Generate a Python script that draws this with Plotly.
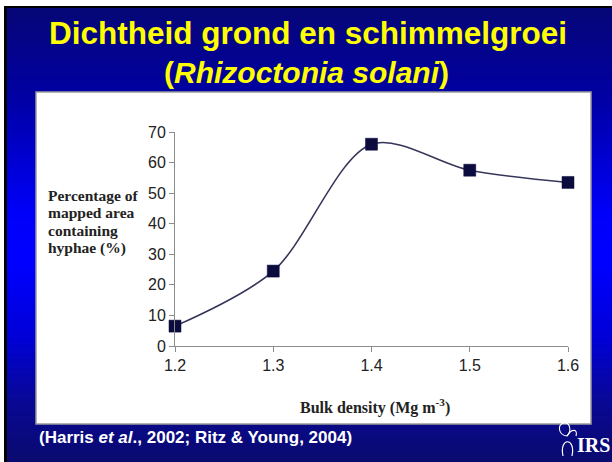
import plotly.graph_objects as go

# ---- data ----
bulk_density = [1.2, 1.3, 1.4, 1.5, 1.6]
hyphae_pct = [6.5, 24.5, 66.0, 57.5, 53.5]
x_ticks = [1.2, 1.3, 1.4, 1.5, 1.6]
x_tick_labels = ["1.2", "1.3", "1.4", "1.5", "1.6"]
y_ticks = [0, 10, 20, 30, 40, 50, 60, 70]
y_title_lines = ["Percentage of", "mapped area", "containing", "hyphae (%)"]

W, H = 612, 462
L, R, T, B = 175, 44, 132, 116
PW, PH = W - L - R, H - T - B


def fx(px):
    return (px - L) / PW


def fy(py):
    return (H - B - py) / PH


def lerp(c1, c2, t):
    return tuple(int(round(a + (b - a) * t)) for a, b in zip(c1, c2))


stops = [(0.0, (6, 6, 120)), (0.2, (0, 0, 165)), (0.45, (0, 0, 250)),
         (0.56, (0, 0, 255)), (0.72, (0, 0, 215)), (0.86, (8, 8, 150)),
         (1.0, (10, 10, 110))]


def grad(t):
    for (t0, c0), (t1, c1) in zip(stops[:-1], stops[1:]):
        if t0 <= t <= t1:
            return lerp(c0, c1, (t - t0) / (t1 - t0))
    return stops[-1][1]


shapes = []
# white outer margin and black border
shapes.append(dict(type="rect", xref="paper", yref="paper", x0=fx(0), x1=fx(W), y0=fy(0), y1=fy(H),
                   fillcolor="white", line=dict(width=0), layer="below"))
shapes.append(dict(type="rect", xref="paper", yref="paper", x0=fx(4), x1=fx(W), y0=fy(6), y1=fy(H),
                   fillcolor="black", line=dict(width=0), layer="below"))
top, step = 8, 3
y = top
while y < H:
    c = grad((y - top) / (H - top))
    shapes.append(dict(type="rect", xref="paper", yref="paper", x0=fx(7), x1=fx(W),
                       y0=fy(y), y1=fy(min(y + step + 0.5, H)),
                       fillcolor="rgb(%d,%d,%d)" % c, line=dict(width=0), layer="below"))
    y += step
# white panel
shapes.append(dict(type="rect", xref="paper", yref="paper", x0=fx(36), x1=fx(591), y0=fy(92), y1=fy(424),
                   fillcolor="white", line=dict(color="#9a9a9a", width=1.5), layer="below"))

fig = go.Figure()
fig.add_trace(go.Scatter(
    x=bulk_density, y=hyphae_pct, mode="lines+markers",
    line=dict(shape="spline", smoothing=0.9, color="#35355a", width=1.6),
    marker=dict(symbol="square", size=12, color="#0b0b3e", line=dict(color="#0b0b3e", width=0.5)),
    cliponaxis=False, showlegend=False,
))

annotations = [
    dict(text="<b>Dichtheid grond en schimmelgroei</b>", x=fx(308), y=fy(33), xref="paper", yref="paper",
         showarrow=False, font=dict(family="Liberation Sans, Arial", size=31.5, color="#ffff00"),
         xanchor="center", yanchor="middle"),
    dict(text="<b>(<i>Rhizoctonia solani</i>)</b>", x=fx(306), y=fy(72), xref="paper", yref="paper",
         showarrow=False, font=dict(family="Liberation Sans, Arial", size=30, color="#ffff00"),
         xanchor="center", yanchor="middle"),
    dict(text="<b>(Harris <i>et al</i>., 2002; Ritz &amp; Young, 2004)</b>", x=fx(37), y=fy(437),
         xref="paper", yref="paper", showarrow=False,
         font=dict(family="Liberation Sans, Arial", size=17, color="white"),
         xanchor="left", yanchor="middle"),
    dict(text="<b>IRS</b>", x=fx(612), y=fy(445), xref="paper", yref="paper", showarrow=False,
         font=dict(family="Liberation Serif, Times New Roman", size=20, color="white"),
         xanchor="right", yanchor="middle"),
    dict(text="<b>Bulk density (Mg m<sup>-3</sup>)</b>", x=fx(375), y=fy(406), xref="paper", yref="paper",
         showarrow=False, font=dict(family="Liberation Serif, Times New Roman", size=16, color="#222222"),
         xanchor="center", yanchor="middle"),
]
for i, line in enumerate(y_title_lines):
    annotations.append(dict(text="<b>%s</b>" % line, x=fx(46), y=fy(195 + i * 17.8), xref="paper", yref="paper",
                            showarrow=False, xanchor="left", yanchor="middle",
                            font=dict(family="Liberation Serif, Times New Roman", size=15.5, color="#222222")))

# simple logo glyph outline (leaves + bell)
shapes.append(dict(type="path", xref="paper", yref="paper",
                   path="M %f,%f C %f,%f %f,%f %f,%f" % (fx(563), fy(456), fx(559), fy(437), fx(576), fy(437), fx(572), fy(456)),
                   line=dict(color="white", width=1.2)))
shapes.append(dict(type="path", xref="paper", yref="paper",
                   path="M %f,%f C %f,%f %f,%f %f,%f C %f,%f %f,%f %f,%f" % (
                       fx(567), fy(436), fx(558), fy(435), fx(557), fy(424), fx(564), fy(423),
                       fx(570), fy(422), fx(572), fy(431), fx(567), fy(436)),
                   line=dict(color="white", width=1.1)))
shapes.append(dict(type="path", xref="paper", yref="paper",
                   path="M %f,%f C %f,%f %f,%f %f,%f" % (fx(567), fy(436), fx(572), fy(428), fx(578), fy(429), fx(576), fy(436)),
                   line=dict(color="white", width=1.1)))

fig.update_layout(
    width=W, height=H, margin=dict(l=L, r=R, t=T, b=B),
    paper_bgcolor="white", plot_bgcolor="rgba(0,0,0,0)",
    shapes=shapes, annotations=annotations,
    xaxis=dict(range=[1.2, 1.6], tickvals=x_ticks, ticktext=x_tick_labels, showgrid=False, zeroline=False,
               showline=True, linecolor="#8c8c8c", linewidth=1, ticks="outside", ticklen=5, tickcolor="#8c8c8c",
               tickfont=dict(family="Liberation Sans, Arial", size=16, color="#222222")),
    yaxis=dict(range=[0, 70], tickvals=y_ticks, showgrid=False, zeroline=False,
               showline=True, linecolor="#8c8c8c", linewidth=1, ticks="outside", ticklen=5, tickcolor="#8c8c8c",
               tickfont=dict(family="Liberation Sans, Arial", size=16, color="#222222")),
)

fig.write_html("out.html", config={"displayModeBar": False},
               post_script="document.body.style.margin='0';document.body.style.padding='0';")
